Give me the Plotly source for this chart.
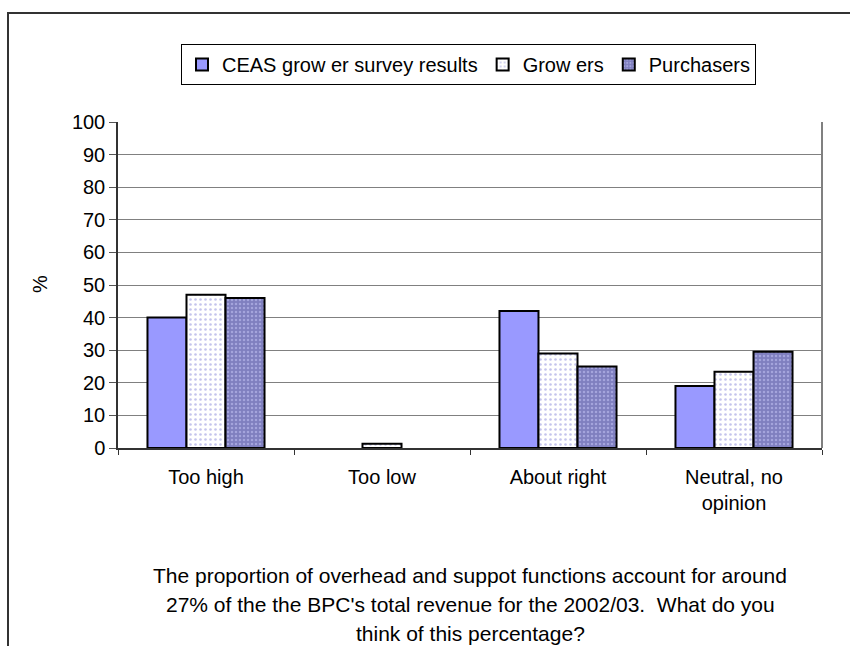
import plotly.graph_objects as go

# Survey responses (% of respondents)
categories = ["Too high", "Too low", "About right", "Neutral, no<br>opinion"]
ceas_survey = [40, 0, 42, 19]
growers = [47, 1.3, 29, 23.4]
purchasers = [46, 0, 25, 29.5]
series_names = ["CEAS grow er survey results", "Grow ers", "Purchasers"]
y_ticks = list(range(0, 101, 10))
question_lines = [
    "The proportion of overhead and suppot functions account for around",
    "27% of the the BPC's total revenue for the 2002/03.  What do you",
    "think of this percentage?",
]

FONT = "Liberation Sans, Arial, sans-serif"
FS = 20
W, H = 850, 646
ML, MR, MT, MB = 118, 28, 122, 198
PW, PH = W - ML - MR, H - MT - MB


def px_to_paper_x(px):
    return (px - ML) / PW


def px_to_paper_y(py):
    return 1 + (MT - py) / PH


def outline_widths(values, width=2):
    # no outline on empty bars so nothing is drawn over the axis
    return [width if v > 0 else 0 for v in values]


fig = go.Figure()
fig.add_trace(go.Bar(
    name=series_names[0], x=categories, y=ceas_survey,
    marker=dict(color="#9999ff",
                line=dict(color="#000000", width=outline_widths(ceas_survey))),
))
fig.add_trace(go.Bar(
    name=series_names[1], x=categories, y=growers,
    marker=dict(color="#ffffff",
                line=dict(color="#000000", width=outline_widths(growers)),
                pattern=dict(shape=".", fillmode="replace", bgcolor="#ffffff",
                             fgcolor="#c4c4ec", size=5, solidity=0.2)),
))
fig.add_trace(go.Bar(
    name=series_names[2], x=categories, y=purchasers,
    marker=dict(color="#8080c0",
                line=dict(color="#000000", width=outline_widths(purchasers)),
                pattern=dict(shape=".", fillmode="replace", bgcolor="#7f7fbf",
                             fgcolor="#a4a4dc", size=4, solidity=0.3)),
))

annotations = [
    dict(text="%", textangle=-90, xref="paper", yref="paper",
         x=px_to_paper_x(40), y=px_to_paper_y(284), xanchor="center", yanchor="middle",
         showarrow=False, font=dict(family=FONT, size=FS)),
]
for i, line in enumerate(question_lines):
    annotations.append(dict(
        text=line, xref="paper", yref="paper",
        x=px_to_paper_x(470), y=px_to_paper_y(575 + 29 * i),
        xanchor="center", yanchor="middle", showarrow=False,
        font=dict(family=FONT, size=21),
    ))

fig.update_layout(
    width=W, height=H,
    margin=dict(l=ML, r=MR, t=MT, b=MB),
    paper_bgcolor="#ffffff", plot_bgcolor="#ffffff",
    font=dict(family=FONT, size=FS, color="#000000"),
    barmode="group", bargap=0.335, bargroupgap=0,
    showlegend=True,
    legend=dict(
        orientation="h", x=px_to_paper_x(181), y=px_to_paper_y(44),
        xanchor="left", yanchor="top",
        bordercolor="#000000", borderwidth=1, bgcolor="#ffffff",
        font=dict(family=FONT, size=FS), itemwidth=30,
        tracegroupgap=0,
    ),
    xaxis=dict(
        type="category", showgrid=False, showline=True,
        linecolor="#333333", linewidth=2,
        ticks="outside", tickson="boundaries", ticklen=5, tickcolor="#333333",
        ticklabelstandoff=10,
        tickfont=dict(family=FONT, size=FS), fixedrange=True,
    ),
    yaxis=dict(
        range=[0, 100], tickvals=y_ticks, showgrid=True,
        gridcolor="#808080", gridwidth=1, zeroline=False,
        showline=True, linecolor="#333333", linewidth=1.5,
        ticks="outside", ticklen=7, tickcolor="#555555",
        tickfont=dict(family=FONT, size=FS), fixedrange=True,
    ),
    shapes=[
        # plot area frame on the right side
        dict(type="line", xref="paper", yref="paper", x0=1, x1=1, y0=0, y1=1,
             line=dict(color="#808080", width=2)),
        # outer chart border
        dict(type="rect", xref="paper", yref="paper",
             x0=px_to_paper_x(8), x1=px_to_paper_x(900),
             y0=px_to_paper_y(700), y1=px_to_paper_y(13),
             line=dict(color="#333333", width=2)),
    ],
    annotations=annotations,
)

fig.write_html("out.html")
